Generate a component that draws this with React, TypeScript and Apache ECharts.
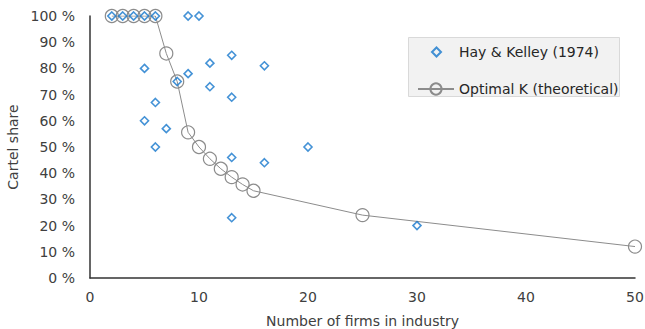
import React, { useEffect, useRef } from "react";
import * as echarts from "echarts";

const hkX = [2, 3, 4, 5, 6, 9, 10, 5, 11, 13, 16, 9, 8, 11, 13, 6, 5, 7, 6, 13, 16, 13, 20, 30];
const hkY = [100, 100, 100, 100, 100, 100, 100, 80, 82, 85, 81, 78, 75, 73, 69, 67, 60, 57, 50, 46, 44, 23, 50, 20];

const optX = [2, 3, 4, 5, 6, 7, 8, 9, 10, 11, 12, 13, 14, 15, 25, 50];
const optY = [100, 100, 100, 100, 100, 85.7, 75, 55.6, 50, 45.5, 41.7, 38.5, 35.7, 33.3, 24, 12];

const seriesNames = ["Hay & Kelley (1974)", "Optimal K (theoretical)"];
const xTitle = "Number of firms in industry";
const yTitle = "Cartel share";

const FONT = "DejaVu Sans";
const TEXT = "#404040";
const BLUE = "#1577cc";
const GRAY = "#8c8c8c";

export default function App() {
  const ref = useRef<HTMLDivElement>(null);
  useEffect(() => {
    if (!ref.current) return;
    const chart = echarts.init(ref.current, null, { renderer: "svg" });
    chart.setOption({
      animation: false,
      textStyle: { fontFamily: FONT, color: TEXT },
      grid: { left: 90, right: 10, top: 16, bottom: 51, containLabel: false, outerBoundsMode: "none" },
      xAxis: {
        type: "value",
        min: 0,
        max: 50,
        interval: 10,
        name: xTitle,
        nameLocation: "middle",
        nameGap: 36,
        nameTextStyle: { fontFamily: FONT, fontSize: 14, color: TEXT },
        axisLine: { show: true, lineStyle: { color: "#333", width: 1.5 } },
        axisTick: { show: false },
        splitLine: { show: false },
        axisLabel: { fontFamily: FONT, fontSize: 14, color: TEXT, margin: 12 },
      },
      yAxis: {
        type: "value",
        min: 0,
        max: 100,
        interval: 10,
        name: yTitle,
        nameLocation: "middle",
        nameGap: 67,
        nameRotate: 90,
        nameTextStyle: { fontFamily: FONT, fontSize: 14, color: TEXT },
        axisLine: { show: true, lineStyle: { color: "#333", width: 1.5 } },
        axisTick: { show: false },
        splitLine: { show: false },
        axisLabel: { fontFamily: FONT, fontSize: 14, color: TEXT, margin: 15, formatter: "{value} %" },
      },
      graphic: [
        {
          type: "rect",
          left: 408,
          top: 37,
          shape: { width: 211, height: 59 },
          style: { fill: "#f2f2f2", stroke: "#d9d9d9", lineWidth: 1 },
          z: 1,
        },
      ],
      legend: [
        {
          data: [{ name: seriesNames[0], icon: "diamond" }],
          left: 431,
          top: 45,
          padding: 0,
          itemWidth: 9,
          itemHeight: 9,
          symbolKeepAspect: true,
          textStyle: { fontFamily: FONT, fontSize: 14, color: "#262626", padding: [0, 0, 0, 13] },
          z: 5,
        },
        {
          data: [seriesNames[1]],
          left: 417,
          top: 82,
          padding: 0,
          itemWidth: 36,
          itemHeight: 14,
          textStyle: { fontFamily: FONT, fontSize: 14, color: "#262626" },
          z: 5,
        },
      ],
      series: [
        {
          name: seriesNames[1],
          type: "line",
          data: optX.map((x, i) => [x, optY[i]]),
          symbol: "circle",
          symbolSize: 13,
          showAllSymbol: true,
          lineStyle: { color: GRAY, width: 1 },
          itemStyle: { color: "rgba(0,0,0,0)", borderColor: GRAY, borderWidth: 1.2 },
          z: 2,
        },
        {
          name: seriesNames[0],
          type: "scatter",
          data: hkX.map((x, i) => [x, hkY[i]]),
          symbol: "diamond",
          symbolSize: 8,
          itemStyle: { color: "rgba(255,255,255,0)", borderColor: BLUE, borderWidth: 1.6 },
          z: 3,
        },
      ],
    });
    return () => chart.dispose();
  }, []);
  return <div ref={ref} style={{ width: 645, height: 329, position: "absolute", left: 0, top: 0 }} />;
}
